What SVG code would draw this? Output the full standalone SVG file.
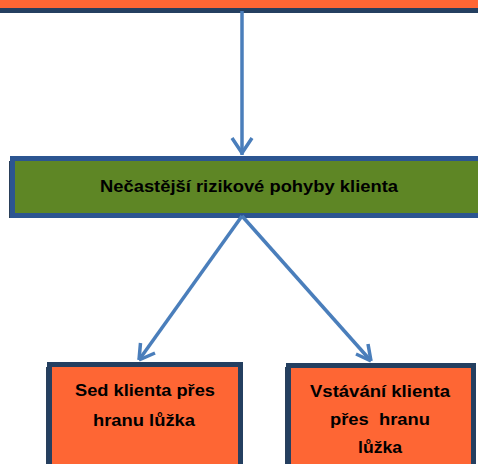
<svg xmlns="http://www.w3.org/2000/svg" width="478" height="464" viewBox="0 0 478 464">
<defs>
<style>
.conn{fill:none;stroke:#4a7ebb;stroke-width:3.5}
.orange{fill:#fe6634;stroke:#243f60;stroke-width:5}
.green{fill:#5e8625;stroke:#2c5591;stroke-width:5}
.shadow{fill:#2a3f5a}
.t{font-family:"Liberation Sans",Arial,sans-serif;font-weight:bold;fill:#000;text-anchor:middle}
</style>
</defs>
<g id="top-node">
<rect class="orange" x="-20" y="-60" width="520" height="70.5"/>
</g>
<g id="main-node">
<rect class="shadow" x="9" y="161" width="480" height="57"/>
<rect class="green" x="12.5" y="158.5" width="480" height="57"/>
<text class="t" x="249" y="192" font-size="17" textLength="298" lengthAdjust="spacingAndGlyphs">Nečastější rizikové pohyby klienta</text>
</g>
<g id="left-node">
<rect class="shadow" x="46" y="367" width="197" height="110"/>
<rect class="orange" x="49.5" y="364.5" width="191" height="110"/>
<text class="t" x="145" y="396" font-size="17" textLength="140" lengthAdjust="spacingAndGlyphs">Sed klienta přes</text>
<text class="t" x="144" y="426" font-size="17" textLength="102" lengthAdjust="spacingAndGlyphs">hranu lůžka</text>
</g>
<g id="right-node">
<rect class="shadow" x="285" y="367" width="190" height="110"/>
<rect class="orange" x="288.5" y="365.5" width="185" height="110"/>
<text class="t" x="380" y="397" font-size="17" textLength="140" lengthAdjust="spacingAndGlyphs">Vstávání klienta</text>
<text class="t" x="380" y="425" font-size="17" xml:space="preserve" textLength="100" lengthAdjust="spacingAndGlyphs">přes  hranu</text>
<text class="t" x="380" y="453" font-size="17" textLength="44" lengthAdjust="spacingAndGlyphs">lůžka</text>
</g>
<g id="connectors">
<path class="conn" d="M242,11 L242,155"/>
<path class="conn" d="M242,153 L232,138 M242,153 L252,138"/>
<path class="conn" d="M242,216 L139,360"/>
<path class="conn" d="M139,360 L140.5,343 M139,360 L155,353"/>
<path class="conn" d="M242,216 L371,361"/>
<path class="conn" d="M371,361 L356,354 M371,361 L368,344"/>
</g>
</svg>
